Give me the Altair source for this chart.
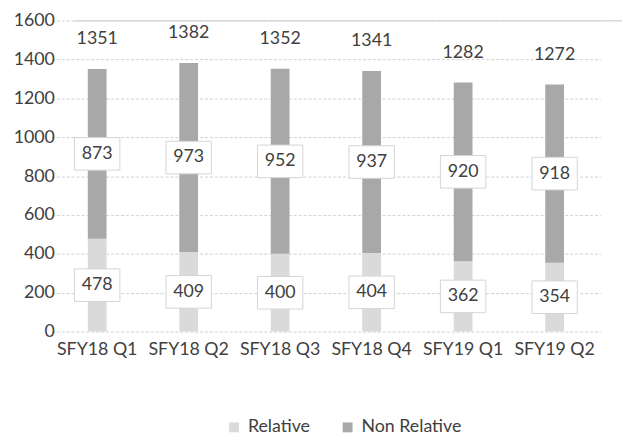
import altair as alt
import pandas as pd

quarters = ["SFY18 Q1", "SFY18 Q2", "SFY18 Q3", "SFY18 Q4", "SFY19 Q1", "SFY19 Q2"]
relative = [478, 409, 400, 404, 362, 354]
non_relative = [873, 973, 952, 937, 920, 918]
totals = [1351, 1382, 1352, 1341, 1282, 1272]
series = ["Relative", "Non Relative"]
colors = ["#dadada", "#a8a8a8"]
y_ticks = [0, 200, 400, 600, 800, 1000, 1200, 1400, 1600]

rows = []
for i, q in enumerate(quarters):
    rows.append({"quarter": q, "series": series[0], "value": relative[i], "order": 0})
    rows.append({"quarter": q, "series": series[1], "value": non_relative[i], "order": 1})
df = pd.DataFrame(rows)
tot = pd.DataFrame({"quarter": quarters, "total": totals})
top = pd.DataFrame({"v": [y_ticks[-1]]})

FONT = "Lato"
TXT = "#404040"
FS = 18
W, H = 555, 315

xscale = alt.Scale(domain=quarters, range=[-23, 533], paddingInner=0, paddingOuter=0)
yscale = alt.Scale(domain=[0, 1600], nice=False)

X_AXIS = alt.Axis(title=None, domain=False, ticks=False, tickSize=0, labelAngle=0,
                  labelPadding=9, labelFontSize=FS, labelFont=FONT, labelColor=TXT, grid=False)
Y_AXIS = alt.Axis(title=None, values=y_ticks, format="d", labelOverlap=False,
                  domain=False, ticks=False, tickSize=0,
                  labelPadding=20, labelFontSize=FS, labelFont=FONT, labelColor=TXT,
                  grid=True, gridColor="#cfcfcf", gridDash=[3, 2], gridWidth=1)


def xenc():
    return alt.X("quarter:N", scale=xscale, sort=quarters, axis=X_AXIS)


def yenc(field, **kw):
    return alt.Y(field, scale=yscale, axis=Y_AXIS, **kw)


bars = alt.Chart(df).mark_bar(size=19).encode(
    x=xenc(),
    y=yenc("value:Q", stack="zero"),
    color=alt.Color("series:N", scale=alt.Scale(domain=series, range=colors), sort=series,
                    legend=alt.Legend(title=None, orient="none", direction="horizontal",
                                      legendX=153, legendY=403, symbolType="square",
                                      symbolSize=100, symbolStrokeWidth=0, labelFontSize=18,
                                      labelFont=FONT, labelColor=TXT, columnPadding=29,
                                      labelOffset=5)),
    order=alt.Order("order:Q"),
)

top_rule = alt.Chart(top).mark_rule(color="#d9d9d9", strokeWidth=1.5).encode(
    y=yenc("v:Q")
)

stacked = alt.Chart(df).transform_stack(
    stack="value", groupby=["quarter"], as_=["y0", "y1"], sort=[alt.SortField("order")]
).transform_calculate(mid="(datum.y0 + datum.y1) / 2")

box_path = "M-1,-0.717 L1,-0.717 L1,0.717 L-1,0.717 Z"
boxes = stacked.mark_point(shape=box_path, size=46 * 46, filled=True, fill="white",
                           stroke="#d4d4d4", strokeWidth=1, opacity=1).encode(
    x=xenc(),
    y=yenc("mid:Q"),
)
seg_text = stacked.mark_text(fontSize=FS, font=FONT, color=TXT, baseline="middle").encode(
    x=xenc(),
    y=yenc("mid:Q"),
    text="value:Q",
)
tot_text = alt.Chart(tot).mark_text(fontSize=FS, font=FONT, color=TXT, baseline="middle", dy=-30).encode(
    x=xenc(),
    y=yenc("total:Q"),
    text="total:Q",
)

chart = alt.layer(bars, top_rule, boxes, seg_text, tot_text).properties(
    width=W, height=H,
    autosize=alt.AutoSizeParams(type="none"),
    padding={"left": 67, "top": 10, "right": 5, "bottom": 108},
    background="white",
).configure_view(stroke=None)

chart.save("out.html", embed_options={"renderer": "svg", "actions": False})
